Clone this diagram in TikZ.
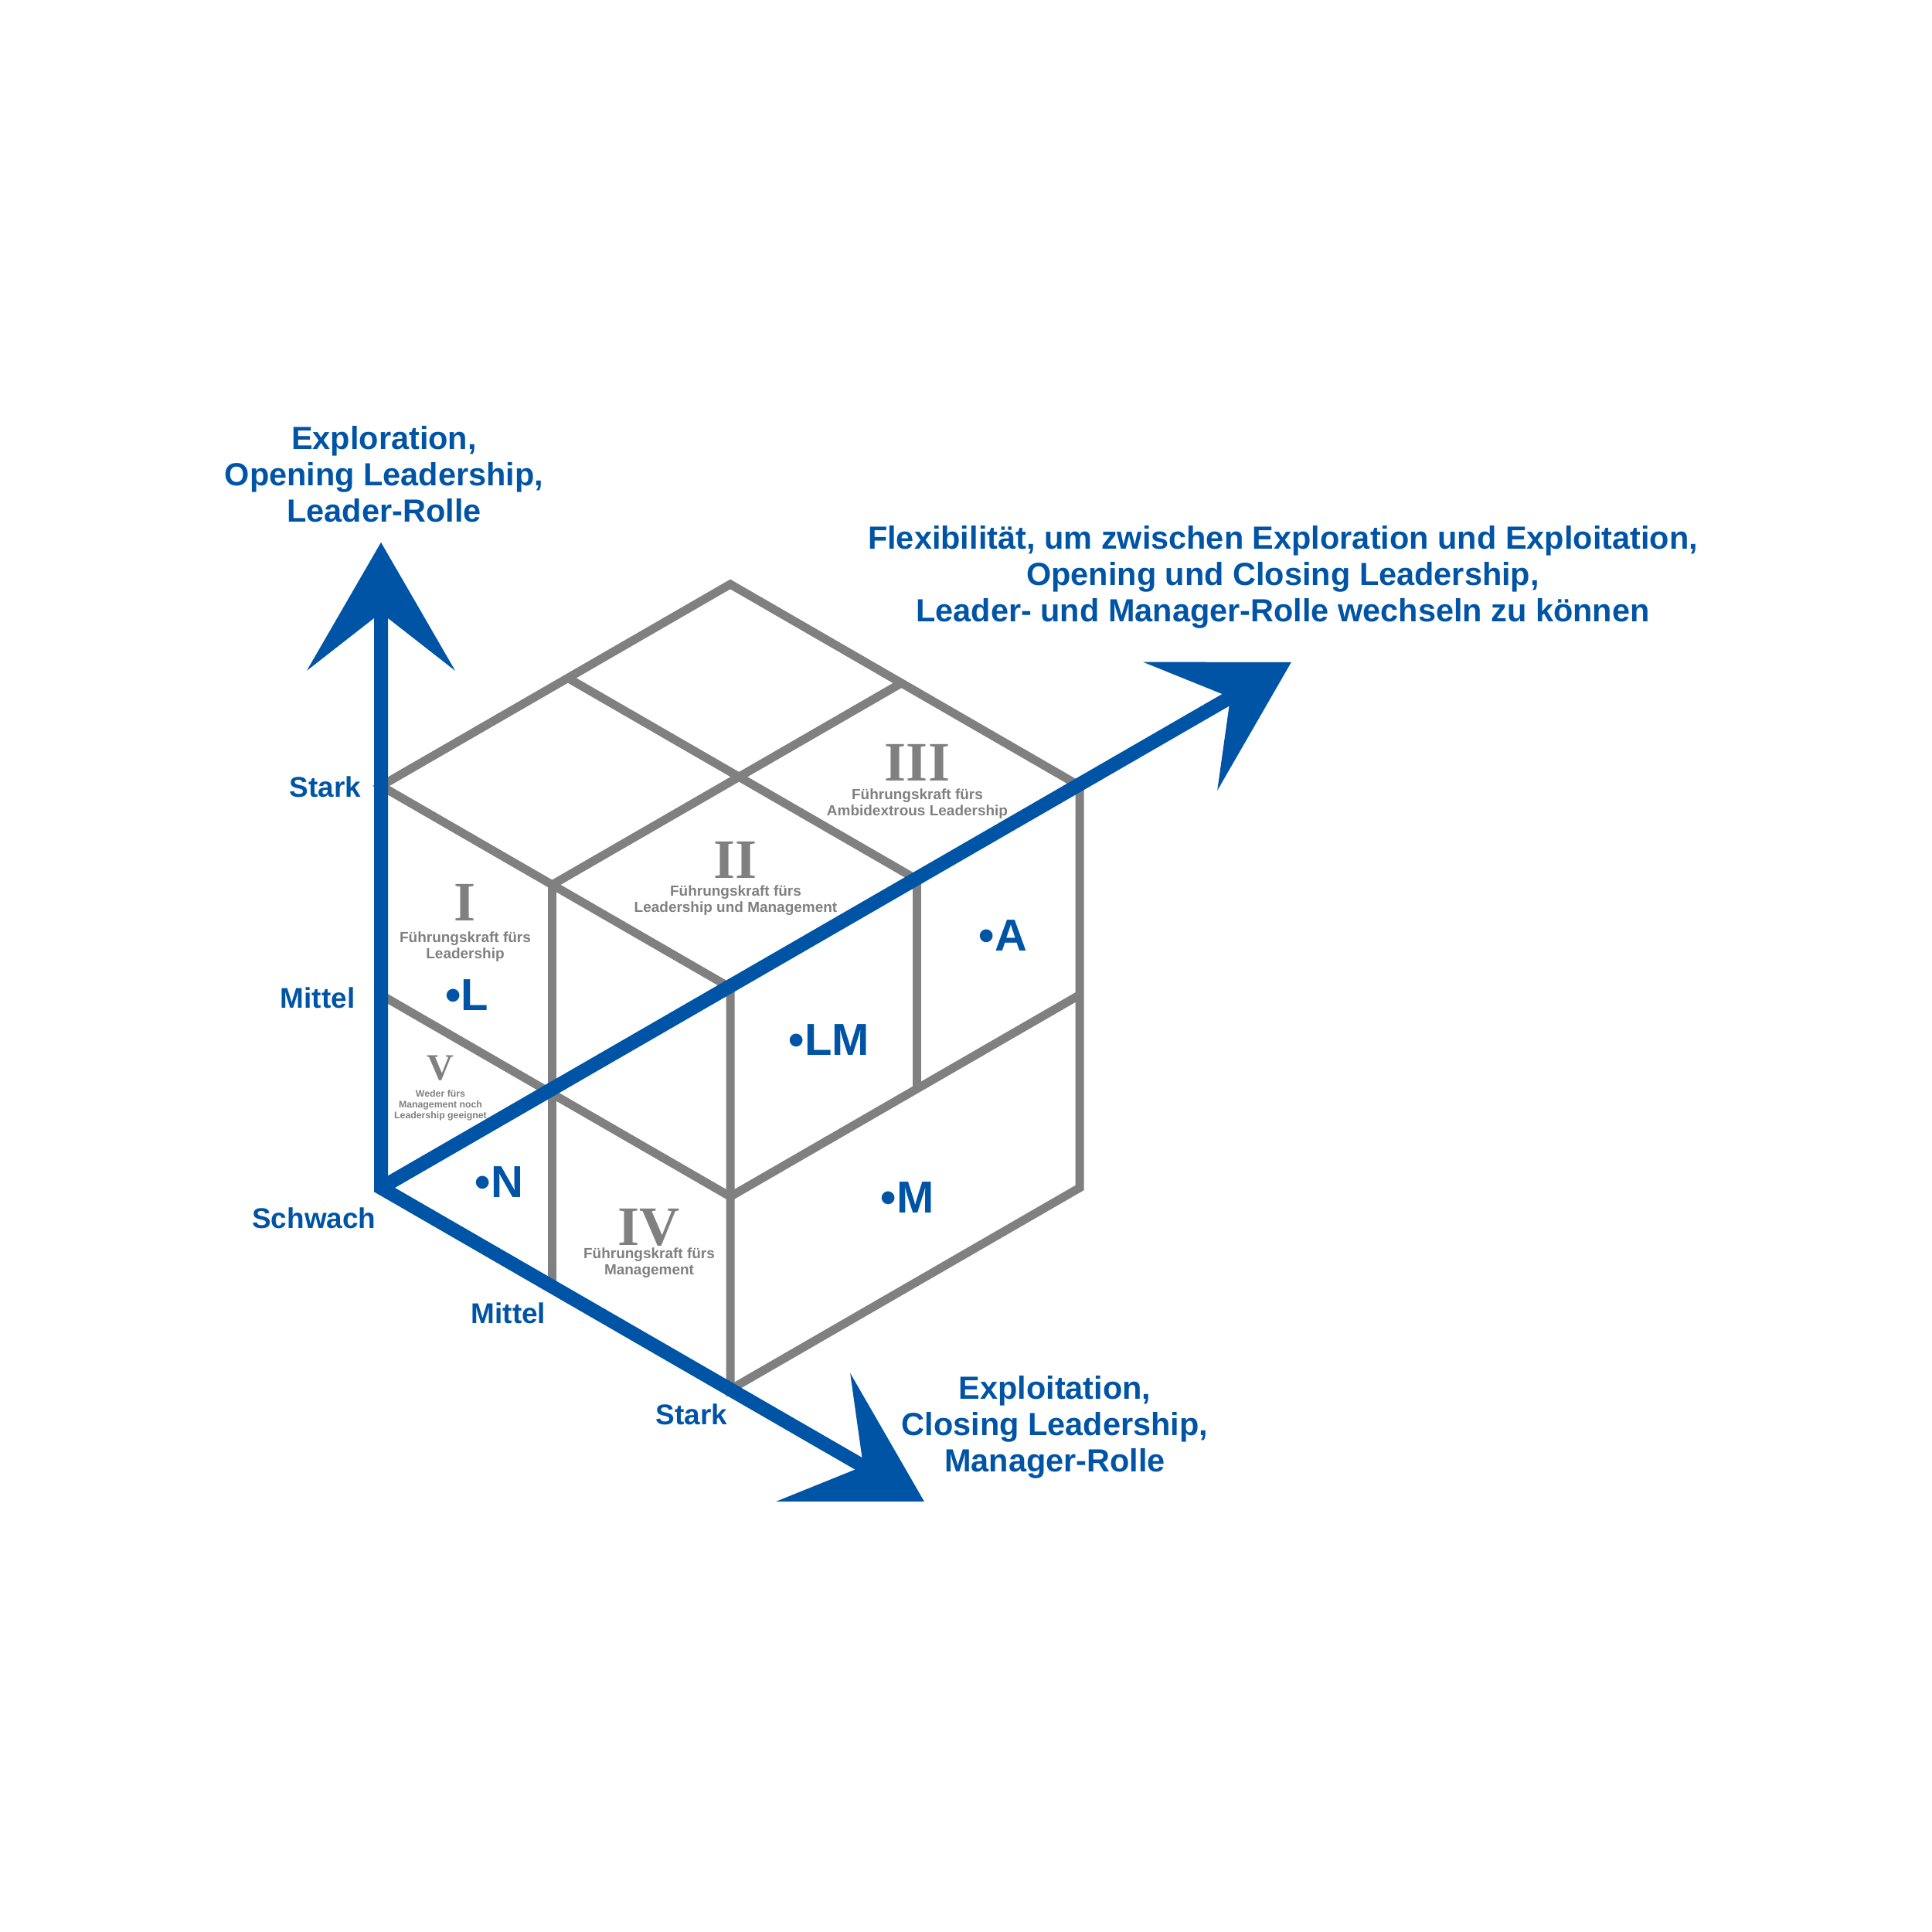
\documentclass[tikz,border=0pt]{standalone}
\usepackage{fontspec}
\setmainfont{Liberation Sans}
\newfontfamily\romanfont{Liberation Serif}
\usetikzlibrary{arrows.meta,positioning}

\definecolor{cubegray}{RGB}{128,128,128}
\definecolor{axisblue}{RGB}{0,84,166}

\tikzset{
  cubeline/.style={cubegray, line width=0.11cm},
  axisline/.style={axisblue, line width=0.18cm},
  axislabel/.style={axisblue, align=center, inner sep=0pt,
    font=\fontsize{11.8pt}{13.4pt}\selectfont\bfseries},
  ticklabel/.style={axisblue, inner sep=0pt,
    font=\fontsize{10.5pt}{12pt}\selectfont\bfseries},
  pointlabel/.style={axisblue, inner sep=0pt,
    font=\fontsize{16.5pt}{18pt}\selectfont\bfseries},
  regnum/.style={cubegray, inner sep=0pt,
    font=\fontsize{20.5pt}{22pt}\selectfont\romanfont\bfseries},
  regtext/.style={cubegray, align=center, inner sep=0pt,
    font=\fontsize{5.4pt}{6.1pt}\selectfont\bfseries},
}

\begin{document}
\begin{tikzpicture}[x={(4.52cm,-2.61cm)}, y={(4.52cm,2.61cm)}, z={(0cm,5.2cm)},
    >={Stealth[length=1.66cm, width=1.92cm, inset=0.75cm, line width=0pt]}]
    \useasboundingbox (-4.93cm,-9.63cm) rectangle (20.07cm,15.37cm);

    % 参数设置
    \def\sx{0.49}  % 左面竖线的位置
    \def\sy{0.535} % 右面竖线的位置
    \def\sz{0.48}  % 中间水平线的高度

    % 立方体外框
    \draw[cubeline] (0,0,1) -- (0,1,1) -- (1,1,1) -- (1,0,1) -- cycle;
    \draw[cubeline] (1,0,1) -- (1,0,0) -- (1,1,0) -- (1,1,1);

    % 立方体内部分隔线
    \foreach \p/\q in {{0,\sy,1}/{1,\sy,1}, {\sx,0,1}/{\sx,1,1},
                       {\sx,0,0}/{\sx,0,1}, {0,0,\sz}/{1,0,\sz},
                       {1,0,\sz}/{1,1,\sz}, {1,\sy,\sz}/{1,\sy,1}} {
      \draw[cubeline] (\p) -- (\q);
    }

    % 三个坐标轴
    \coordinate (O) at (0,0,0);
    \coordinate (zTip) at (0,0,1.606);
    \coordinate (xTip) at (1.555,0,0);
    \coordinate (yTip) at (0,2.606,0);
    \draw[axisline, <->] (zTip) -- (O) -- (xTip);
    \draw[axisline, ->] (O) -- (yTip);

    % 坐标轴标题
    \node[axislabel, anchor=south] (explore) at (0.04cm,8.60cm)
      {Exploration,\\Opening Leadership,\\Leader-Rolle};
    \node[axislabel, anchor=south] (flex) at (11.67cm,7.23cm)
      {Flexibilität, um zwischen Exploration und Exploitation,\\Opening und Closing Leadership,\\Leader- und Manager-Rolle wechseln zu können};
    \node[axislabel, anchor=south] (exploit) at (8.72cm,-3.77cm)
      {Exploitation,\\Closing Leadership,\\Manager-Rolle};

    % 刻度
    \node[ticklabel, anchor=east] (zStark) at (-0.25cm,5.19cm) {Stark};
    \node[ticklabel, anchor=east] (zMittel) at (-0.33cm,2.46cm) {Mittel};
    \node[ticklabel, anchor=east] (schwach) at (-0.06cm,-0.39cm) {Schwach};
    \node[ticklabel] (xMittel) at (1.65cm,-1.62cm) {Mittel};
    \node[ticklabel] (xStark) at (4.02cm,-2.93cm) {Stark};

    % 区域编号及说明
    \node[regnum, anchor=base] (r1) at (1.09cm,3.45cm) {I};
    \node[regtext, below=0.12cm of r1] {Führungskraft fürs\\Leadership};
    \node[regnum, anchor=base] (r2) at (4.59cm,4.00cm) {II};
    \node[regtext, below=0.07cm of r2] {Führungskraft fürs\\Leadership und Management};
    \node[regnum, anchor=base] (r3) at (6.94cm,5.26cm) {III};
    \node[regtext, below=0.08cm of r3] {Führungskraft fürs\\Ambidextrous Leadership};
    \node[regnum, anchor=base] (r4) at (3.47cm,-0.74cm) {IV};
    \node[regtext, below=0.01cm of r4] {Führungskraft fürs\\Management};
    \node[regnum, anchor=base, font=\fontsize{13.7pt}{15pt}\selectfont\romanfont\bfseries] (r5) at (0.77cm,1.39cm) {V};
    \node[regtext, below=0.10cm of r5, font=\fontsize{3.5pt}{4pt}\selectfont\bfseries]
      {Weder fürs\\Management noch\\Leadership geeignet};

    % 各类型的点
    \node[pointlabel, anchor=base] (pL) at (1.11cm,2.29cm) {•L};
    \node[pointlabel, anchor=base] (pN) at (1.53cm,-0.13cm) {•N};
    \node[pointlabel, anchor=base] (pLM) at (5.80cm,1.71cm) {•LM};
    \node[pointlabel, anchor=base] (pA) at (8.05cm,3.06cm) {•A};
    \node[pointlabel, anchor=base] (pM) at (6.81cm,-0.33cm) {•M};

\end{tikzpicture}
\end{document}
